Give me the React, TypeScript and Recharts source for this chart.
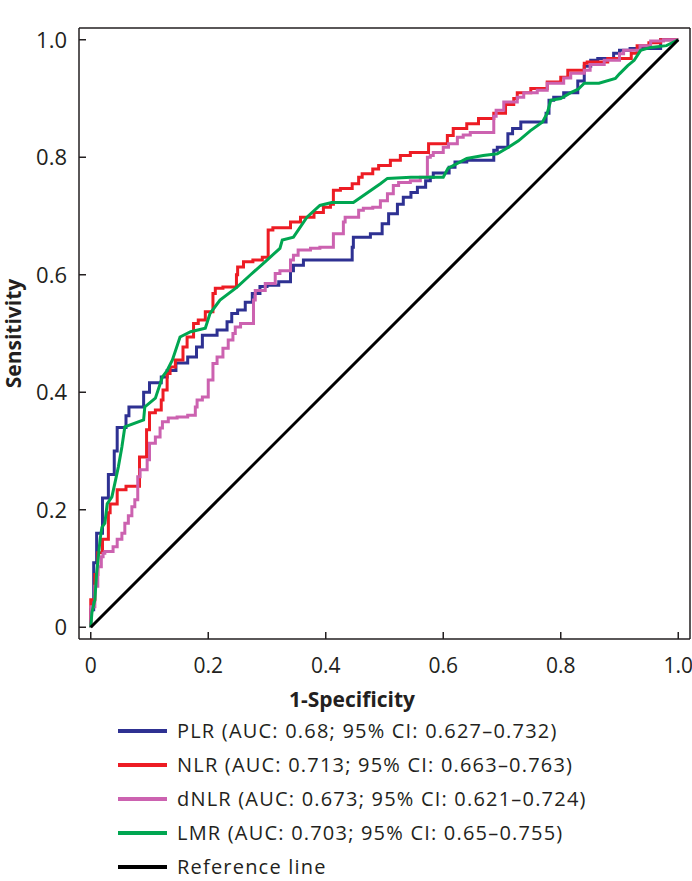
import { Line, LineChart, XAxis, YAxis } from "recharts";

const FONT = "'Open Sans', 'Noto Sans', sans-serif";
const INK = "#231f20";

const TICKS = [0, 0.2, 0.4, 0.6, 0.8, 1];
const DOMAIN: [number, number] = [-0.02, 1.02];

// [1 - specificity, sensitivity]
const PLR: [number, number][] = [
  [0, 0], [0, 0.03], [0.005, 0.03], [0.005, 0.11], [0.01, 0.11], [0.01, 0.16],
  [0.02, 0.16], [0.02, 0.22], [0.03, 0.22], [0.03, 0.26], [0.04, 0.26], [0.04, 0.3],
  [0.045, 0.3], [0.045, 0.34], [0.06, 0.34], [0.065, 0.36], [0.07, 0.375], [0.09, 0.375],
  [0.09, 0.387], [0.1, 0.4], [0.12, 0.416], [0.13, 0.426], [0.145, 0.437], [0.165, 0.45],
  [0.18, 0.46], [0.19, 0.477], [0.215, 0.497], [0.232, 0.506], [0.24, 0.52], [0.25, 0.534],
  [0.263, 0.54], [0.275, 0.553], [0.288, 0.568], [0.3, 0.58], [0.32, 0.582], [0.34, 0.588],
  [0.345, 0.607], [0.362, 0.616], [0.38, 0.625], [0.445, 0.625], [0.447, 0.647], [0.476, 0.664],
  [0.496, 0.67], [0.507, 0.687], [0.522, 0.704], [0.532, 0.72], [0.545, 0.732], [0.556, 0.74],
  [0.57, 0.749], [0.578, 0.76], [0.583, 0.766], [0.61, 0.773], [0.62, 0.783], [0.64, 0.792],
  [0.686, 0.795], [0.692, 0.812], [0.71, 0.817], [0.718, 0.84], [0.732, 0.849], [0.749, 0.86],
  [0.775, 0.86], [0.78, 0.875], [0.788, 0.897], [0.805, 0.902], [0.829, 0.91], [0.84, 0.93],
  [0.851, 0.955], [0.863, 0.965], [0.89, 0.968], [0.9, 0.977], [0.918, 0.982], [0.97, 0.985],
  [1, 1],
];

const NLR: [number, number][] = [
  [0, 0], [0.007, 0.047], [0.012, 0.09], [0.02, 0.127], [0.03, 0.15], [0.033, 0.195],
  [0.045, 0.21], [0.06, 0.234], [0.083, 0.24], [0.083, 0.28], [0.095, 0.29], [0.1, 0.336],
  [0.1, 0.353], [0.11, 0.365], [0.12, 0.37], [0.123, 0.387], [0.13, 0.404], [0.135, 0.432],
  [0.144, 0.443], [0.157, 0.455], [0.164, 0.477], [0.175, 0.494], [0.183, 0.517], [0.195, 0.523],
  [0.208, 0.537], [0.212, 0.568], [0.225, 0.577], [0.248, 0.579], [0.25, 0.6], [0.26, 0.613],
  [0.276, 0.622], [0.292, 0.625], [0.302, 0.63], [0.302, 0.672], [0.31, 0.676], [0.34, 0.68],
  [0.357, 0.69], [0.38, 0.698], [0.396, 0.706], [0.408, 0.715], [0.413, 0.72], [0.425, 0.744],
  [0.445, 0.747], [0.456, 0.755], [0.462, 0.766], [0.48, 0.772], [0.49, 0.78], [0.51, 0.786],
  [0.527, 0.795], [0.544, 0.803], [0.575, 0.808], [0.607, 0.823], [0.617, 0.837], [0.64, 0.849],
  [0.66, 0.857], [0.686, 0.866], [0.706, 0.875], [0.72, 0.89], [0.726, 0.9], [0.749, 0.91],
  [0.777, 0.917], [0.8, 0.928], [0.812, 0.936], [0.84, 0.948], [0.845, 0.96], [0.88, 0.962],
  [0.92, 0.968], [0.93, 0.977], [0.95, 0.99], [0.97, 0.995], [1, 1],
];

const DNLR: [number, number][] = [
  [0, 0], [0.007, 0.035], [0.012, 0.07], [0.018, 0.103], [0.021, 0.12], [0.024, 0.126],
  [0.038, 0.129], [0.045, 0.137], [0.053, 0.15], [0.058, 0.16], [0.064, 0.177], [0.07, 0.19],
  [0.075, 0.205], [0.08, 0.217], [0.084, 0.256], [0.096, 0.268], [0.1, 0.285], [0.11, 0.313],
  [0.118, 0.324], [0.122, 0.339], [0.132, 0.35], [0.147, 0.356], [0.165, 0.358], [0.178, 0.361],
  [0.181, 0.375], [0.19, 0.387], [0.2, 0.392], [0.2, 0.409], [0.208, 0.421], [0.215, 0.449],
  [0.225, 0.46], [0.234, 0.475], [0.242, 0.489], [0.246, 0.5], [0.255, 0.511], [0.26, 0.517],
  [0.277, 0.517], [0.28, 0.557], [0.297, 0.573], [0.314, 0.585], [0.322, 0.602], [0.34, 0.607],
  [0.345, 0.625], [0.353, 0.633], [0.374, 0.642], [0.39, 0.645], [0.413, 0.647], [0.43, 0.67],
  [0.433, 0.69], [0.456, 0.698], [0.464, 0.71], [0.48, 0.713], [0.493, 0.715], [0.505, 0.726],
  [0.515, 0.738], [0.524, 0.752], [0.544, 0.757], [0.561, 0.76], [0.573, 0.766], [0.578, 0.8],
  [0.583, 0.803], [0.6, 0.808], [0.609, 0.817], [0.624, 0.823], [0.634, 0.834], [0.646, 0.838],
  [0.686, 0.842], [0.69, 0.87], [0.703, 0.88], [0.726, 0.894], [0.737, 0.902], [0.76, 0.91],
  [0.777, 0.914], [0.805, 0.926], [0.817, 0.935], [0.84, 0.943], [0.85, 0.948], [0.874, 0.958],
  [0.9, 0.965], [0.907, 0.976], [0.935, 0.982], [0.953, 0.99], [0.975, 0.998], [1, 1],
];

const LMR: [number, number][] = [
  [0, 0], [0.002, 0.025], [0.007, 0.047], [0.01, 0.092], [0.016, 0.15], [0.019, 0.17],
  [0.024, 0.177], [0.028, 0.21], [0.036, 0.222], [0.041, 0.245], [0.047, 0.273], [0.053, 0.307],
  [0.058, 0.341], [0.09, 0.353], [0.092, 0.375], [0.11, 0.39], [0.122, 0.426], [0.13, 0.437],
  [0.139, 0.455], [0.152, 0.494], [0.17, 0.503], [0.195, 0.509], [0.203, 0.534], [0.22, 0.557],
  [0.249, 0.579], [0.272, 0.6], [0.3, 0.625], [0.322, 0.645], [0.326, 0.659], [0.345, 0.664],
  [0.368, 0.698], [0.39, 0.718], [0.41, 0.723], [0.447, 0.723], [0.493, 0.755], [0.505, 0.764],
  [0.545, 0.766], [0.6, 0.766], [0.608, 0.781], [0.64, 0.798], [0.668, 0.803], [0.692, 0.806],
  [0.711, 0.817], [0.728, 0.828], [0.748, 0.845], [0.769, 0.86], [0.777, 0.875], [0.783, 0.897],
  [0.8, 0.9], [0.817, 0.91], [0.83, 0.916], [0.84, 0.926], [0.865, 0.926], [0.893, 0.934],
  [0.9, 0.942], [0.914, 0.956], [0.925, 0.965], [0.936, 0.982], [0.953, 0.987], [0.98, 0.99],
  [1, 1],
];

const REFERENCE: [number, number][] = [[0, 0], [1, 1]];

const SERIES = [
  { key: "plr", label: "PLR (AUC: 0.68; 95% CI: 0.627–0.732)", color: "#2e3192", points: PLR, curve: "stepBefore" },
  { key: "nlr", label: "NLR (AUC: 0.713; 95% CI: 0.663–0.763)", color: "#ed1c24", points: NLR, curve: "stepBefore" },
  { key: "dnlr", label: "dNLR (AUC: 0.673; 95% CI: 0.621–0.724)", color: "#cc62b0", points: DNLR, curve: "stepBefore" },
  { key: "lmr", label: "LMR (AUC: 0.703; 95% CI: 0.65–0.755)", color: "#00a651", points: LMR, curve: "linear" },
  { key: "ref", label: "Reference line", color: "#000000", points: REFERENCE, curve: "linear" },
] as const;

const toRows = (pts: [number, number][]) => pts.map(([x, y]) => ({ x, y }));
const fmt = (v: number) => (v === 0 ? "0" : v.toFixed(1));

const axisLine = { stroke: INK, strokeWidth: 1.5 };

export default function App() {
  return (
    <div style={{ position: "absolute", left: 0, top: 0, width: 692, height: 881, background: "#fff", overflow: "hidden" }}>
      <LineChart width={692} height={881} margin={{ top: 26, right: 0, bottom: 182, left: 0 }}>
        <XAxis
          dataKey="x"
          type="number"
          domain={DOMAIN}
          ticks={TICKS}
          tickFormatter={fmt}
          height={60}
          tickSize={-7}
          tickMargin={26}
          tick={{ fill: INK, fontSize: 21, fontFamily: FONT }}
          axisLine={axisLine}
          tickLine={axisLine}
        />
        <XAxis
          xAxisId="top"
          orientation="top"
          dataKey="x"
          type="number"
          domain={DOMAIN}
          ticks={TICKS}
          height={2}
          tickSize={-7}
          tick={false}
          axisLine={axisLine}
          tickLine={axisLine}
        />
        <YAxis
          dataKey="y"
          type="number"
          domain={DOMAIN}
          ticks={TICKS}
          tickFormatter={fmt}
          width={79}
          tickSize={-7}
          tickMargin={19}
          tick={{ fill: INK, fontSize: 22, fontFamily: FONT }}
          axisLine={axisLine}
          tickLine={axisLine}
          label={{
            value: "Sensitivity",
            angle: -90,
            position: "insideLeft",
            offset: 14,
            style: { textAnchor: "middle", fill: INK, fontSize: 21, fontWeight: 700, fontFamily: FONT },
          }}
        />
        <YAxis
          yAxisId="right"
          orientation="right"
          dataKey="y"
          type="number"
          domain={DOMAIN}
          ticks={TICKS}
          width={2}
          tickSize={-7}
          tick={false}
          axisLine={axisLine}
          tickLine={axisLine}
        />
        {SERIES.map((s) => (
          <Line
            key={s.key}
            data={toRows(s.points as unknown as [number, number][])}
            dataKey="y"
            type={s.curve}
            stroke={s.color}
            strokeWidth={3}
            dot={false}
            activeDot={false}
            isAnimationActive={false}
          />
        ))}
      </LineChart>
      <div
        style={{
          position: "absolute",
          left: 289,
          top: 686,
          fontFamily: FONT,
          fontWeight: 700,
          fontSize: 21,
          color: INK,
          lineHeight: "26px",
        }}
      >
        1-Specificity
      </div>
      {SERIES.map((s, i) => (
        <div
          key={s.key}
          style={{
            position: "absolute",
            left: 118,
            top: 731 + i * 34 - 10,
            height: 20,
            display: "flex",
            alignItems: "center",
            fontFamily: FONT,
            fontSize: 20,
            letterSpacing: 1.2,
            lineHeight: "20px",
            color: INK,
            whiteSpace: "nowrap",
          }}
        >
          <span style={{ display: "inline-block", width: 49, height: 4, background: s.color, marginRight: 10 }} />
          {s.label}
        </div>
      ))}
    </div>
  );
}
